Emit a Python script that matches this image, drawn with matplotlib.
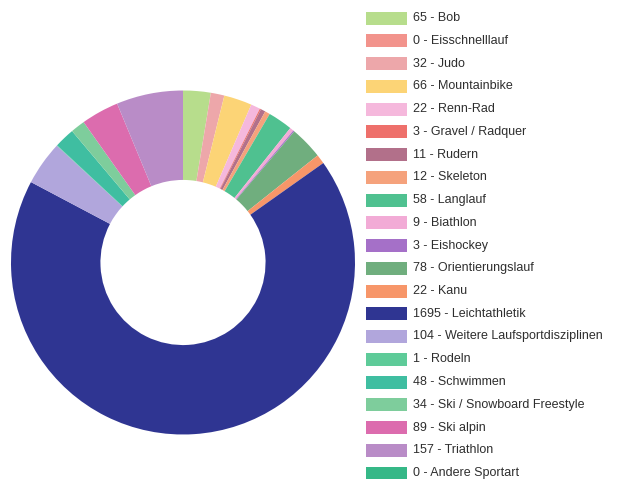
import matplotlib.pyplot as plt
from matplotlib.patches import Rectangle

# Anzahl Teilnehmende je Sportart
sportarten = ["Bob", "Eisschnelllauf", "Judo", "Mountainbike", "Renn-Rad",
              "Gravel / Radquer", "Rudern", "Skeleton", "Langlauf", "Biathlon",
              "Eishockey", "Orientierungslauf", "Kanu", "Leichtathletik",
              "Weitere Laufsportdisziplinen", "Rodeln", "Schwimmen",
              "Ski / Snowboard Freestyle", "Ski alpin", "Triathlon", "Andere Sportart"]
anzahl = [65, 0, 32, 66, 22, 3, 11, 12, 58, 9, 3, 78, 22, 1695, 104, 1, 48, 34, 89, 157, 0]
farben = ["#b7dd8c", "#f2938c", "#eda7aa", "#fcd476", "#f5b8dc", "#ee706b",
          "#b2708a", "#f5a27c", "#4fc190", "#f2abd6", "#a570c8", "#70ae7e",
          "#f79669", "#2f3592", "#b1a6dc", "#5ecb99", "#3fbea1", "#7ecd9c",
          "#dc6cae", "#b98cc7", "#35b887"]

W, H = 619, 479
fig = plt.figure(figsize=(W / 100, H / 100), dpi=100)

# Ring
cx, cy, r = 183, 262.5, 172
ax = fig.add_axes([(cx - r) / W, (H - cy - r) / H, 2 * r / W, 2 * r / H])
ax.pie(anzahl, colors=farben, startangle=90, counterclock=False, radius=1,
       wedgeprops=dict(width=0.52, linewidth=0))
ax.set_xlim(-1, 1)
ax.set_ylim(-1, 1)
ax.axis("off")

# Legende
leg = fig.add_axes([0, 0, 1, 1])
leg.set_xlim(0, W)
leg.set_ylim(H, 0)
leg.axis("off")
y0, dy = 18, 22.75
for i, (name, n, c) in enumerate(zip(sportarten, anzahl, farben)):
    y = y0 + i * dy
    leg.add_patch(Rectangle((366, y - 6.5), 41, 13, color=c, lw=0))
    leg.text(413, y, f"{n} - {name}", va="center", ha="left",
             fontsize=9, color="#2e2e2e", family="Liberation Sans")

fig.savefig("out.png", dpi=100)
